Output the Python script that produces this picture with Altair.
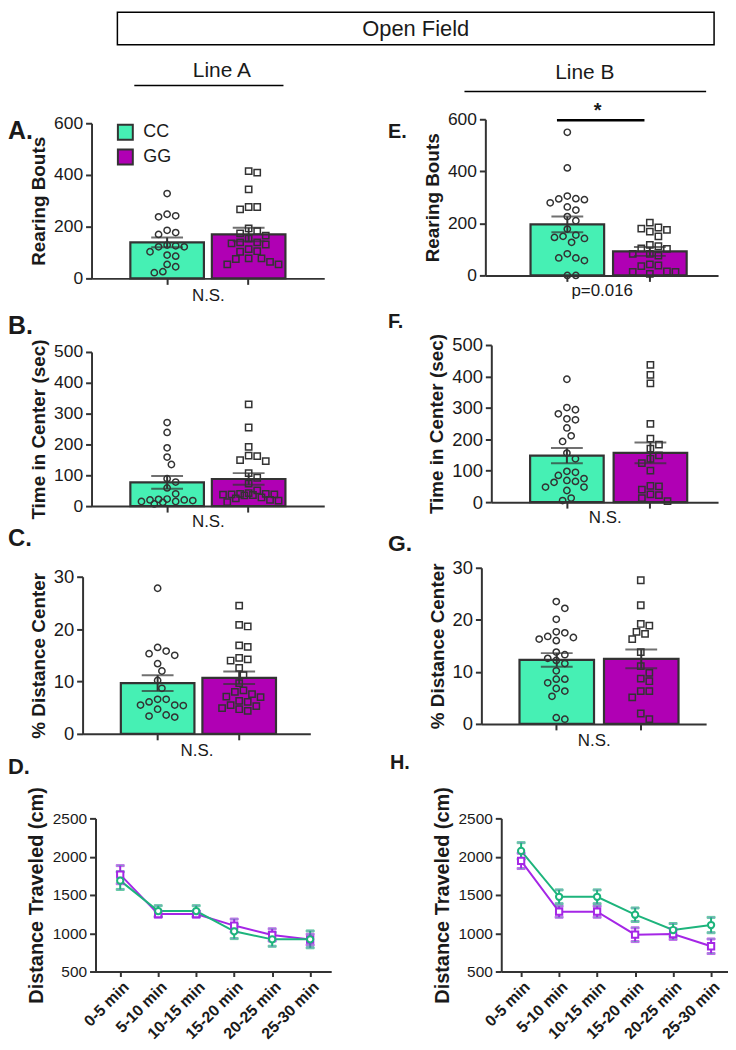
import altair as alt
import pandas as pd

FONT = "Liberation Sans, Arial, Helvetica, sans-serif"
INK = "#333333"
TXT = "#1a1a1a"

GROUPS = ["CC", "GG"]
BAR_FILLS = ["#46F0B4", "#B000B4"]
LINE_COLORS = ["#1DB47C", "#A526E6"]
SHAPES = ["circle", "square"]

TITLE = "Open Field"
LINE_A = "Line A"
LINE_B = "Line B"
STAR = "*"

# ---- Rearing bouts ----
A_CC = [328, 248, 238, 242, 177, 170, 186, 122, 129, 126, 122, 90, 86, 103, 45, 54, 22, 26]
A_GG = [409, 415, 344, 276, 267, 276, 193, 174, 183, 154, 165, 139, 135, 131, 139, 105, 103, 113, 77, 64, 54, 54, 75, 77]
A_MEAN = [139, 170]
A_SEM = [19, 26]

E_CC = [550, 413, 295, 291, 279, 294, 305, 263, 251, 226, 210, 178, 155, 142, 127, 146, 150, 83, 57, 67, 67, 0, 0]
E_GG = [203, 175, 150, 168, 184, 180, 117, 112, 102, 104, 83, 83, 76, 42, 36, 13, 6, 13, 15, 38]
E_MEAN = [196, 92]
E_SEM = [30, 17]

# ---- Time in center ----
B_CC = [271, 239, 189, 159, 135, 89, 78, 59, 40, 22, 18, 15, 12, 7, 15, 20, 20, 23]
B_GG = [330, 255, 192, 164, 149, 146, 162, 107, 92, 73, 51, 38, 35, 40, 37, 42, 40, 36, 38, 20, 25, 13, 18, 28]
B_MEAN = [77, 88]
B_SEM = [21, 19]

F_CC = [391, 294, 301, 281, 262, 265, 236, 211, 193, 156, 138, 98, 85, 69, 75, 66, 95, 63, 48, 37, 48, 5, 13]
F_GG = [437, 405, 378, 249, 202, 170, 183, 149, 138, 124, 100, 50, 40, 52, 22, 13, 25, 3]
F_MEAN = [148, 157]
F_SEM = [24, 33]

# ---- % distance center ----
C_CC = [27.8, 15.8, 15.0, 15.3, 16.5, 13.4, 12.0, 10.2, 8.7, 6.6, 6.1, 5.5, 5.4, 4.7, 5.5, 6.6, 3.6, 3.2, 3.4]
C_GG = [24.5, 20.5, 20.8, 16.9, 16.6, 14.5, 14.0, 14.2, 12.6, 11.2, 9.7, 7.6, 8.3, 7.0, 8.0, 6.3, 7.1, 6.1, 5.5, 4.9, 4.4, 4.7, 5.3]
C_MEAN = [9.7, 10.7]
C_SEM = [1.5, 1.2]

G_CC = [23.5, 22.2, 20.1, 17.7, 16.8, 16.3, 16.0, 16.6, 17.5, 13.3, 12.2, 11.6, 12.6, 13.8, 10.2, 8.6, 7.9, 8.6, 6.3, 6.8, 5.3, 0.9, 1.2]
G_GG = [27.6, 22.8, 18.9, 19.2, 17.3, 17.7, 16.3, 13.8, 11.1, 9.8, 8.7, 8.2, 6.3, 6.3, 5.1, 2.0, 0.9]
G_MEAN = [12.3, 12.5]
G_SEM = [1.3, 1.8]

# ---- Distance traveled ----
TIMES = ["0-5 min", "5-10 min", "10-15 min", "15-20 min", "20-25 min", "25-30 min"]
D_CC_MEAN = [1687, 1290, 1290, 1025, 920, 920]
D_CC_SEM = [115, 70, 70, 95, 90, 110]
D_GG_MEAN = [1765, 1250, 1250, 1100, 978, 917]
D_GG_SEM = [118, 40, 40, 85, 80, 70]
H_CC_MEAN = [2075, 1476, 1476, 1242, 1042, 1107]
H_CC_SEM = [108, 90, 90, 88, 85, 100]
H_GG_MEAN = [1945, 1281, 1281, 981, 990, 830]
H_GG_SEM = [100, 72, 72, 90, 70, 95]

W1, W2 = 250, 248
ROW_H = [160, 167, 167, 177]


def swarm(values, lo, hi, h, d=8.6, maxoff=32.0):
    """Deterministic beeswarm: horizontal offsets (px), kept within the bar width."""
    placed = []
    out = [0.0] * len(values)
    order = sorted(range(len(values)), key=lambda i: -values[i])
    cands = [0.0]
    j = 1
    while j * d / 2 <= maxoff:
        cands += [j * d / 2, -j * d / 2]
        j += 1
    for i in order:
        py = (values[i] - lo) / (hi - lo) * h
        best, bestd = 0.0, -1.0
        for c in cands:
            md = min([((c - qx) ** 2 + (py - qy) ** 2) ** 0.5 for qx, qy in placed] or [1e9])
            if md >= 0.95 * d:
                best = c
                break
            if md > bestd + 0.5:
                best, bestd = c, md
        placed.append((best, py))
        out[i] = best
    return out


def one():
    return pd.DataFrame({"k": [0]})


def text_layer(txt, x, y, size, weight="normal", align="left"):
    return alt.Chart(pd.DataFrame({"t": [txt]})).mark_text(
        align=align, baseline="middle", fontSize=size, fontWeight=weight, font=FONT, color=TXT
    ).encode(text="t:N", x=alt.value(x), y=alt.value(y))


def bar_panel(cc, gg, mean, sem, ydom, yticks, ytitle, xtitle, letter, L, legend=False, extra=()):
    x0, x1 = L["xr"]
    pi, po, al = L["band"]
    step = (x1 - x0) / (2 - pi + 2 * po)
    bw = step * (1 - pi)
    yb, yt = L["yr"]
    ph = yb - yt
    bars = pd.DataFrame({"group": GROUPS, "mean": mean, "sem": sem})
    bars["lo"] = bars["mean"] - bars["sem"]
    bars["hi"] = bars["mean"] + bars["sem"]

    xs = alt.Scale(type="band", domain=GROUPS, range=[x0, x1], paddingInner=pi, paddingOuter=po, align=al)
    xa = alt.Axis(title=xtitle, labels=False, ticks=True, tickSize=6, offset=L["xoff"],
                  titleFontSize=17, titleFontWeight="normal", titlePadding=L["tpad"])
    ys = alt.Scale(domain=ydom, range=[yb, yt], nice=False, zero=False)
    ya = alt.Axis(title=ytitle, values=yticks, offset=L["yoff"], labelFontSize=L["lfs"], format="d",
                  titleFontSize=19, tickSize=6, labelPadding=3, titlePadding=5)
    X = alt.X("group:N", scale=xs, axis=xa, sort=GROUPS)

    fill_legend = None
    if legend:
        fill_legend = alt.Legend(title=None, orient="none", legendX=L["legxy"][0], legendY=L["legxy"][1],
                                 symbolType="square", symbolSize=225, symbolStrokeColor=INK,
                                 symbolStrokeWidth=2, symbolOpacity=1, labelFontSize=18, labelFont=FONT,
                                 labelColor=TXT, rowPadding=1, labelOffset=9, padding=0,
                                 direction="vertical")

    bar = alt.Chart(bars).mark_bar(stroke=INK, strokeWidth=2.2, width=bw).encode(
        x=X,
        y=alt.Y("mean:Q", scale=ys, axis=ya),
        y2=alt.datum(0),
        fill=alt.Fill("group:N", scale=alt.Scale(domain=GROUPS, range=BAR_FILLS), legend=fill_legend),
    )
    layers = [bar]
    for g, vals, shp in zip(GROUPS, [cc, gg], SHAPES):
        dfp = pd.DataFrame({"group": [g] * len(vals), "value": vals,
                            "dx": swarm(vals, ydom[0], ydom[1], ph, maxoff=bw / 2 - 5)})
        layers.append(
            alt.Chart(dfp).mark_point(shape=shp, filled=False, color=INK, strokeWidth=1.5, size=40,
                                      opacity=1).encode(
                x=X,
                xOffset=alt.XOffset("dx:Q", scale=alt.Scale(domain=[-60, 60],
                                                            range=[bw / 2 - 60, bw / 2 + 60])),
                y=alt.Y("value:Q", scale=ys, axis=ya),
            )
        )
    err = alt.Chart(bars).mark_rule(color=INK, strokeWidth=2).encode(
        x=X, y=alt.Y("lo:Q", scale=ys, axis=ya), y2="hi:Q")
    cap_hi = alt.Chart(bars).mark_tick(color=INK, thickness=2, size=32, orient="horizontal").encode(
        x=X, y=alt.Y("hi:Q", scale=ys, axis=ya))
    cap_lo = alt.Chart(bars).mark_tick(color=INK, thickness=2, size=32, orient="horizontal").encode(
        x=X, y=alt.Y("lo:Q", scale=ys, axis=ya))
    lab = text_layer(letter, L["lab"][0], L["lab"][1], L["labfs"], weight="bold")
    layers += [err, cap_hi, cap_lo, lab, *extra]
    return alt.layer(*layers).properties(width=L["W"], height=L["H"])


def line_panel(cc_m, cc_s, gg_m, gg_s, letter, L):
    rows = []
    for g, ms, ss in [("GG", gg_m, gg_s), ("CC", cc_m, cc_s)]:
        for i, (t, m, s) in enumerate(zip(TIMES, ms, ss)):
            rows.append({"time": t, "idx": i, "group": g, "mean": m, "lo": m - s, "hi": m + s})
    df = pd.DataFrame(rows)
    xs = alt.Scale(type="point", domain=TIMES, range=L["xr"], padding=L["pad"], align=L["al"])
    xa = alt.Axis(title=None, labelAngle=315, labelFontSize=16, labelFontWeight="bold", tickSize=5,
                  labelPadding=2)
    yb, yt = L["yr"]
    ys = alt.Scale(domain=[500, 2500], range=[yb, yt], nice=False, zero=False)
    ya = alt.Axis(title="Distance Traveled (cm)", values=[500, 1000, 1500, 2000, 2500], offset=L["yoff"],
                  format="d", labelFontSize=15.5, titleFontSize=20, tickSize=6, labelPadding=3, titlePadding=6)
    X = alt.X("time:N", scale=xs, axis=xa, sort=TIMES)
    S = alt.Stroke("group:N", scale=alt.Scale(domain=GROUPS, range=LINE_COLORS), legend=None)
    base = alt.Chart(df)
    line = base.mark_line(strokeWidth=2).encode(x=X, y=alt.Y("mean:Q", scale=ys, axis=ya), stroke=S,
                                                  order="idx:Q")
    err = base.mark_rule(strokeWidth=2).encode(x=X, y=alt.Y("lo:Q", scale=ys, axis=ya), y2="hi:Q", stroke=S)
    cap_hi = base.mark_tick(thickness=2, size=8, orient="horizontal").encode(
        x=X, y=alt.Y("hi:Q", scale=ys, axis=ya), stroke=S)
    cap_lo = base.mark_tick(thickness=2, size=8, orient="horizontal").encode(
        x=X, y=alt.Y("lo:Q", scale=ys, axis=ya), stroke=S)
    pts = base.mark_point(filled=True, fill="white", fillOpacity=1, size=40, strokeWidth=2, opacity=1).encode(
        x=X, y=alt.Y("mean:Q", scale=ys, axis=ya), stroke=S,
        shape=alt.Shape("group:N", scale=alt.Scale(domain=GROUPS, range=SHAPES), legend=None))
    lab = text_layer(letter, L["lab"][0], L["lab"][1], L["labfs"], weight="bold")
    return alt.layer(line, err, cap_hi, cap_lo, pts, lab).properties(width=L["W"], height=L["H"])


# ---- header decorations (in panel A / E coordinates) ----
header_A = [
    alt.Chart(one()).mark_rect(filled=False, stroke="black", strokeWidth=1.5).encode(
        x=alt.value(35), x2=alt.value(635), y=alt.value(-107.5), y2=alt.value(-75)),
    text_layer(TITLE, 335, -91, 22, align="center"),
    text_layer(LINE_A, 140, -48, 21, align="center"),
    alt.Chart(one()).mark_rule(color="black", strokeWidth=1.5).encode(
        x=alt.value(52), x2=alt.value(202), y=alt.value(-34)),
]
header_E = [
    text_layer(LINE_B, 104, -46, 21, align="center"),
    alt.Chart(one()).mark_rule(color="black", strokeWidth=1.5).encode(
        x=alt.value(-17), x2=alt.value(226), y=alt.value(-28)),
    alt.Chart(one()).mark_rule(color="black", strokeWidth=2.5).encode(
        x=alt.value(76), x2=alt.value(164), y=alt.value(1)),
    text_layer(STAR, 117, -8, 20, weight="bold", align="center"),
]

LA = dict(W=W1, H=ROW_H[0], xr=[9, 243], band=(0.0976, 0.476, 0.5), yr=[160, 4], yoff=-9, xoff=0,
          tpad=2.5, lfs=17.5, lab=(-75, 12), labfs=25, legxy=(34, 4))
LE = dict(W=W2, H=ROW_H[0], xr=[4, 238], band=(0.108, 0.464, 0.59), yr=[157, 0], yoff=-4, xoff=-3,
          tpad=0, lfs=17.5, lab=(-94, 13), labfs=20)
LB = dict(W=W1, H=ROW_H[1], xr=[9, 243], band=(0.0976, 0.476, 0.5), yr=[167, 12], yoff=-9, xoff=0,
          tpad=0.5, lfs=17.5, lab=(-75, -14), labfs=25)
LF = dict(W=W2, H=ROW_H[1], xr=[10, 238], band=(0.119, 0.417, 0.557), yr=[163, 5], yoff=-10, xoff=-4,
          tpad=0, lfs=18.5, lab=(-94, -18), labfs=20)
LC = dict(W=W1, H=ROW_H[2], xr=[0, 229], band=(0.0976, 0.445, 0.527), yr=[167, 9], yoff=0, xoff=0,
          tpad=1.5, lfs=18.5, lab=(-75, -29), labfs=24)
LG = dict(W=W2, H=ROW_H[2], xr=[0, 226], band=(0.118, 0.389, 0.58), yr=[157, 0], yoff=0, xoff=-10,
          tpad=1.5, lfs=18.5, lab=(-94, -24), labfs=23)
LD = dict(W=W1, H=ROW_H[3], xr=[13, 250], pad=0.602, al=0.54, yr=[177, 23], yoff=-13, lab=(-75, -29), labfs=22)
LH = dict(W=W2, H=ROW_H[3], xr=[20, 248], pad=0.484, al=0.54, yr=[177, 23], yoff=-20, lab=(-92, -33), labfs=20)

pA = bar_panel(A_CC, A_GG, A_MEAN, A_SEM, [0, 600], [0, 200, 400, 600], "Rearing Bouts", "N.S.", "A.", LA,
               legend=True, extra=header_A)
pE = bar_panel(E_CC, E_GG, E_MEAN, E_SEM, [0, 600], [0, 200, 400, 600], "Rearing Bouts", "p=0.016", "E.", LE,
               extra=header_E)
pB = bar_panel(B_CC, B_GG, B_MEAN, B_SEM, [0, 500], [0, 100, 200, 300, 400, 500], "Time in Center (sec)",
               "N.S.", "B.", LB)
pF = bar_panel(F_CC, F_GG, F_MEAN, F_SEM, [0, 500], [0, 100, 200, 300, 400, 500], "Time in Center (sec)",
               "N.S.", "F.", LF)
pC = bar_panel(C_CC, C_GG, C_MEAN, C_SEM, [0, 30], [0, 10, 20, 30], "% Distance Center", "N.S.", "C.", LC)
pG = bar_panel(G_CC, G_GG, G_MEAN, G_SEM, [0, 30], [0, 10, 20, 30], "% Distance Center", "N.S.", "G.", LG)
pD = line_panel(D_CC_MEAN, D_CC_SEM, D_GG_MEAN, D_GG_SEM, "D.", LD)
pH = line_panel(H_CC_MEAN, H_CC_SEM, H_GG_MEAN, H_GG_SEM, "H.", LH)

chart = alt.concat(
    pA, pE, pB, pF, pC, pG, pD, pH,
    columns=2,
    spacing={"row": 62, "column": 151},
    align="each",
    bounds="flush",
    padding=0,
).resolve_scale(
    fill="independent", shape="independent", stroke="independent"
).resolve_legend(
    fill="independent", shape="independent", stroke="independent"
).configure_view(
    stroke=None
).configure_axis(
    labelFont=FONT, titleFont=FONT, labelColor=TXT, titleColor=TXT,
    domainColor=INK, tickColor=INK, domainWidth=2, tickWidth=2, grid=False, titleFontWeight="bold",
)

chart.save("out.html", embed_options={"renderer": "svg", "actions": False})
